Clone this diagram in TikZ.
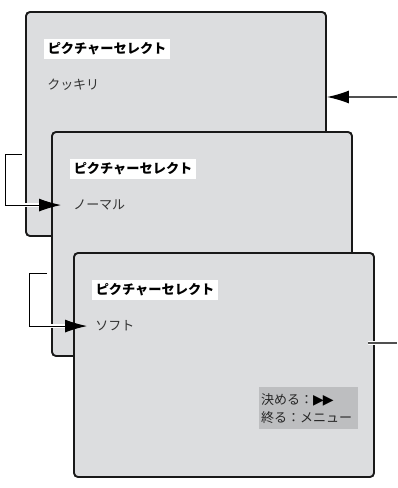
\documentclass[tikz,border=0pt]{standalone}
\usepackage{fontspec}
\usetikzlibrary{arrows.meta,positioning}
\newfontfamily\jp{Noto Sans CJK JP}
\newfontfamily\sym{DejaVu Sans}
\definecolor{screen}{HTML}{DCDDDF}
\definecolor{keybox}{HTML}{BDBEC0}
\definecolor{wire}{HTML}{505050}
\begin{document}
\begin{tikzpicture}[x=1pt, y=-1pt, >={Latex[length=22pt,width=13pt,color=black]},
    panel/.style={draw=black!90, line width=1.9pt, rounded corners=4pt, fill=screen,
        minimum width=300pt, minimum height=224pt, inner sep=0pt},
    titlebox/.style={fill=white, inner xsep=3.5pt, inner ysep=0pt, minimum height=20pt,
        anchor=west, font={\jp\bfseries\fontsize{13.2}{14}\selectfont}},
    item/.style={text=black!80, inner sep=0pt, anchor=west,
        font={\jp\fontsize{13}{14}\selectfont}},
    halo/.style={white, line width=3.5pt},
    link/.style={black, line width=1pt}]
    \useasboundingbox (0,0) rectangle (397,488);

    % Màn hình 1
    \node[panel] (p1) at (176,124) {};
    \node[titlebox] (t1) at ([shift={(19,38)}]p1.north west) {ピクチャーセレクト};
    \node[item] (o1) at ([shift={(22,74)}]p1.north west) {クッキリ};

    % Mũi tên vào từ bên phải
    \coordinate (in) at (397,97);
    \draw[wire, line width=1.2pt, ->] (in) -- (in -| p1.east);

    % Màn hình 2
    \node[panel] (p2) at (202,244) {};
    \node[titlebox] (t2) at ([shift={(19,38)}]p2.north west) {ピクチャーセレクト};
    \node[item] (o2) at ([shift={(22,74)}]p2.north west) {ノーマル};

    % Mũi tên móc 1
    \coordinate (a1) at (22,154);
    \coordinate (a2) at (5,154);
    \coordinate (a3) at (a2 |- o2.west);
    \draw[halo] (a3) -- ([xshift=-22]o2.west);
    \draw[link, ->] (a1) -- (a2) -- (a3) -- ([xshift=-12]o2.west);

    % Màn hình 3
    \node[panel] (p3) at (224,365) {};
    \node[titlebox] (t3) at ([shift={(19,38)}]p3.north west) {ピクチャーセレクト};
    \node[item] (o3) at ([shift={(22,74)}]p3.north west) {ソフト};
    \node[fill=keybox, anchor=north west, minimum width=99pt, minimum height=42pt,
        inner xsep=2pt, inner ysep=3pt, text width=95pt, align=left, text=black!85,
        font={\jp\fontsize{13}{18}\selectfont}] (keys) at (259,387)
        {決める：{\sym\color{black}\fontsize{14}{18}\selectfont ▶\kern-1pt▶}\\終る：メニュー};

    % Mũi tên móc 2
    \coordinate (b1) at (47,273);
    \coordinate (b2) at (29,273);
    \coordinate (b3) at (b2 |- o3.west);
    \draw[halo] (b3) -- ([xshift=-22]o3.west);
    \draw[link, ->] (b1) -- (b2) -- (b3) -- ([xshift=-8]o3.west);

    % Đường ra bên phải
    \coordinate (out) at (397,343);
    \draw[halo] ([xshift=-7]out -| p3.east) -- (out);
    \draw[wire, line width=1.2pt] ([xshift=-7]out -| p3.east) -- (out);
\end{tikzpicture}
\end{document}
